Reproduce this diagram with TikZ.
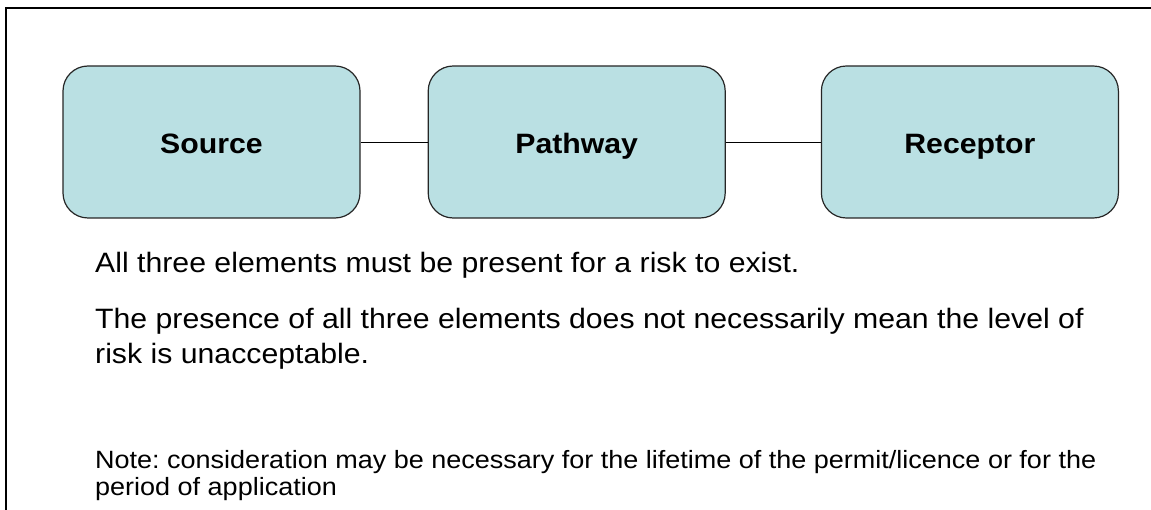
\documentclass[tikz,border=0pt]{standalone}
\usepackage{fontspec}
\setmainfont{Liberation Sans}[FakeStretch=1.08]
\usetikzlibrary{positioning}

\definecolor{elemfill}{HTML}{BAE0E3}

\begin{document}
\frenchspacing
\begin{tikzpicture}[x=1pt,y=-1pt,
elem/.style={
	rectangle,minimum width=297pt,minimum height=152pt,rounded corners=25pt,
	draw=black!85,line width=1.2pt,fill=elemfill,
	text height=24pt,text depth=0pt,
	font=\fontsize{28}{34}\selectfont\bfseries},
body/.style={anchor=base west,inner sep=0pt,align=left,
	font=\fontsize{28}{35}\selectfont},
note/.style={anchor=base west,inner sep=0pt,align=left,
	font=\fontsize{25}{27}\selectfont},
link/.style={draw=black,line width=0.9pt}
]
\useasboundingbox (0,0) rectangle (1151,510);
% frame (open at right and bottom)
\draw[line width=1.2pt] (6,510) -- (6,8) -- (1151,8);

\node[elem] (source) at (211.5,142) {Source};
\node[elem,right=67pt of source] (pathway) {Pathway};
\node[elem,right=95pt of pathway] (receptor) {Receptor};

\draw[link] (source) -- (pathway);
\draw[link] (pathway) -- (receptor);

% multi-line nodes: base is the last line
\node[body] (all) at (95,273) {All three elements must be present for a risk to exist.};
\node[body] (presence) at (95,363) {The presence of all three elements does not necessarily mean the level of\\risk is unacceptable.};
\node[note] (note) at (95,495) {Note: consideration may be necessary for the lifetime of the permit/licence or for the\\period of application};
\end{tikzpicture}
\end{document}
